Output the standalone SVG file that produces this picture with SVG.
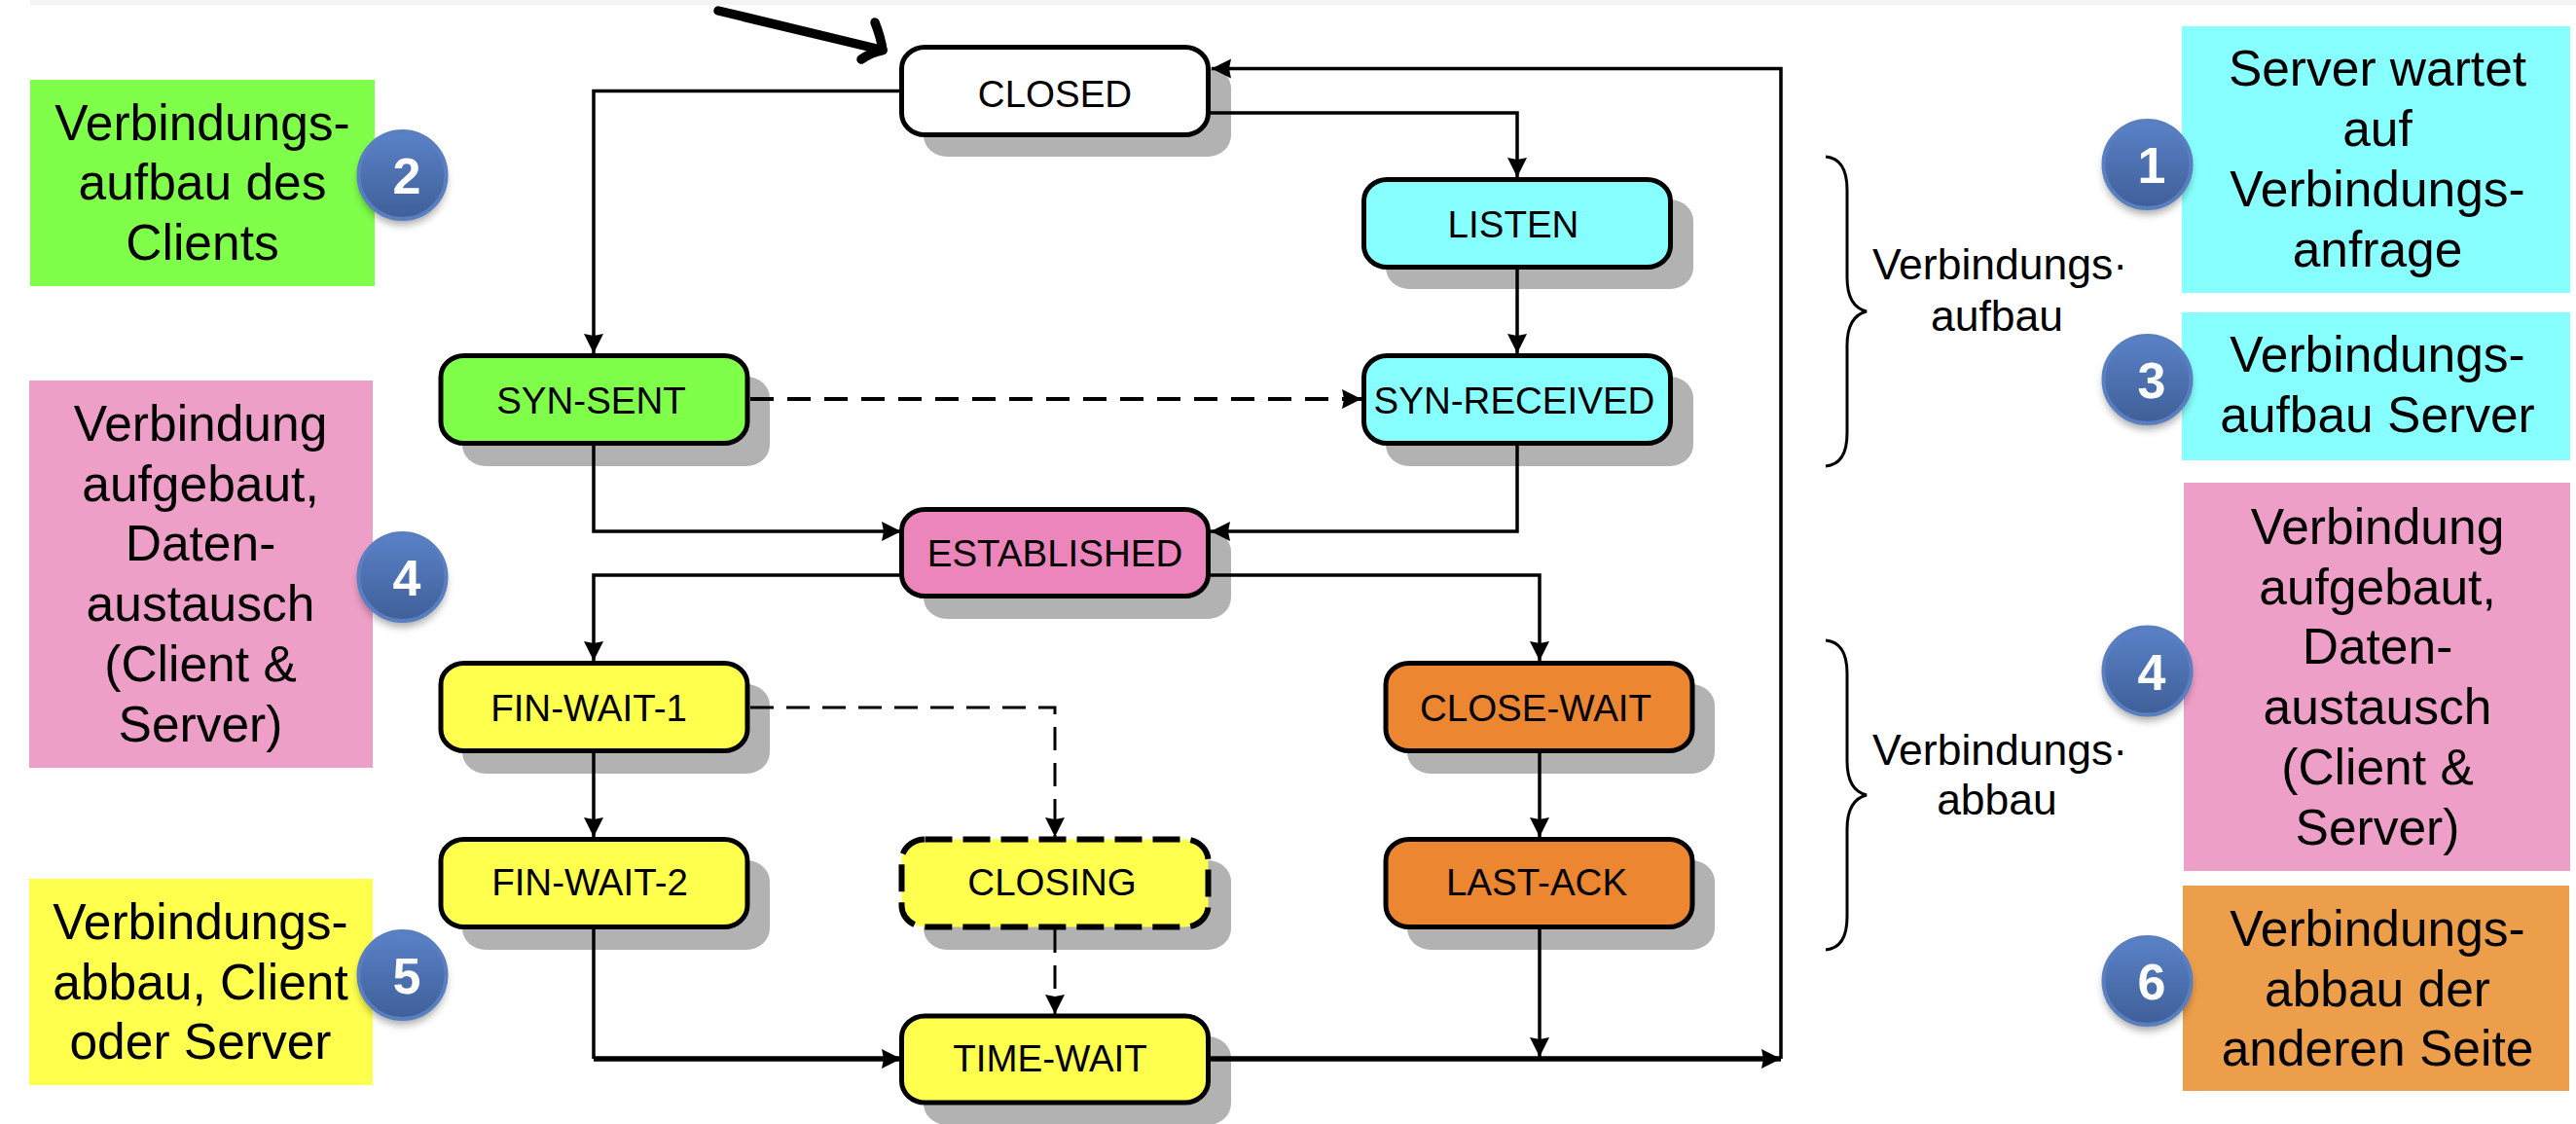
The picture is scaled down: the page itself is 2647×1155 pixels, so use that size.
<svg xmlns="http://www.w3.org/2000/svg" width="2647" height="1155" viewBox="0 0 2647 1155">
<style>
text{font-family:"Liberation Sans",Arial,sans-serif;fill:#000;text-anchor:middle}
.st{font-size:38.5px}
.lb{font-size:51.5px}
.br{font-size:44.5px}
.dg{font-size:52px;font-weight:bold;fill:#fff}
.sh{fill:#b2b2b2}
.n{stroke:#000;stroke-width:5}
.c{fill:none;stroke:#000;stroke-width:3.5}
.hv{stroke-width:5.5}
.ds{stroke-dasharray:24 14;stroke-width:4}
.dt{stroke-dasharray:24 13;stroke-width:3}
.badge{fill:url(#bg);stroke:#5a7fc0;stroke-width:4}
</style>
<defs>
<marker id="a" markerUnits="userSpaceOnUse" markerWidth="22" markerHeight="22" refX="20" refY="10" orient="auto"><path d="M0 0L20 10L0 20L2 10Z" fill="#000"/></marker>
<linearGradient id="bg" x1="0" y1="0" x2="0" y2="1"><stop offset="0" stop-color="#5a82c8"/><stop offset="1" stop-color="#3f5f98"/></linearGradient>
<filter id="bl" x="-30%" y="-30%" width="160%" height="160%"><feGaussianBlur stdDeviation="4"/></filter>
</defs>
<rect width="2647" height="1155" fill="#fff"/>
<rect x="31" y="0" width="2616" height="5" fill="#f3f3f3"/>

<g id="node-closed"><rect class="sh" x="949" y="69" width="316" height="92" rx="24" ry="22"/><rect class="n" x="926.5" y="48.5" width="315" height="90" rx="24" ry="22" fill="#fff"/><text class="st" x="1084" y="110">CLOSED</text></g>
<g id="node-listen"><rect class="sh" x="1424" y="205" width="316" height="92" rx="24" ry="22"/><rect class="n" x="1401.5" y="184.5" width="315" height="90" rx="24" ry="22" fill="#88ffff"/><text class="st" x="1555" y="243.5">LISTEN</text></g>
<g id="node-syn-sent"><rect class="sh" x="475" y="387" width="316" height="92" rx="24" ry="22"/><rect class="n" x="453" y="365.5" width="315" height="90" rx="24" ry="22" fill="#80ff4a"/><text class="st" x="607.5" y="425">SYN-SENT</text></g>
<g id="node-syn-received"><rect class="sh" x="1424" y="387" width="316" height="92" rx="24" ry="22"/><rect class="n" x="1401.5" y="365.5" width="315" height="90" rx="24" ry="22" fill="#88ffff"/><text class="st" x="1556" y="425">SYN-RECEIVED</text></g>
<g id="node-established"><rect class="sh" x="949" y="545" width="316" height="91" rx="24" ry="22"/><rect class="n" x="926.5" y="523.5" width="315" height="89" rx="24" ry="22" fill="#ec85bb"/><text class="st" x="1084" y="582">ESTABLISHED</text></g>
<g id="node-fin-wait-1"><rect class="sh" x="475" y="703" width="316" height="92" rx="24" ry="22"/><rect class="n" x="453" y="681.5" width="315" height="90" rx="24" ry="22" fill="#ffff4d"/><text class="st" x="605" y="741">FIN-WAIT-1</text></g>
<g id="node-close-wait"><rect class="sh" x="1446" y="703" width="316" height="92" rx="24" ry="22"/><rect class="n" x="1424" y="681.5" width="315" height="90" rx="24" ry="22" fill="#ec8630"/><text class="st" x="1578" y="741">CLOSE-WAIT</text></g>
<g id="node-fin-wait-2"><rect class="sh" x="475" y="884" width="316" height="92" rx="24" ry="22"/><rect class="n" x="453" y="862.5" width="315" height="90" rx="24" ry="22" fill="#ffff4d"/><text class="st" x="606" y="920">FIN-WAIT-2</text></g>
<g id="node-closing"><rect class="sh" x="949" y="884" width="316" height="92" rx="24" ry="22"/><rect x="926.5" y="862.5" width="315" height="90" rx="24" ry="22" fill="#ffff4d" stroke="#000" stroke-width="6" stroke-dasharray="28 11"/><text class="st" x="1081" y="920">CLOSING</text></g>
<g id="node-last-ack"><rect class="sh" x="1446" y="884" width="316" height="92" rx="24" ry="22"/><rect class="n" x="1424" y="862.5" width="315" height="90" rx="24" ry="22" fill="#ec8630"/><text class="st" x="1579" y="920">LAST-ACK</text></g>
<g id="node-time-wait"><rect class="sh" x="949" y="1065" width="316" height="91" rx="24" ry="22"/><rect class="n" x="926.5" y="1044" width="315" height="89" rx="24" ry="22" fill="#ffff4d"/><text class="st" x="1079" y="1101">TIME-WAIT</text></g>

<g id="connectors">
<path class="c" d="M926 93.5H610V363" marker-end="url(#a)"/>
<path class="c" d="M1244 116H1559V182" marker-end="url(#a)"/>
<path class="c" d="M1559 276V363" marker-end="url(#a)"/>
<path class="c ds" d="M771 410H1399" marker-end="url(#a)"/>
<path class="c" d="M610 457V546H926" marker-end="url(#a)"/>
<path class="c" d="M1559 457V546H1244" marker-end="url(#a)"/>
<path class="c" d="M926 591H610V679" marker-end="url(#a)"/>
<path class="c" d="M1244 591H1582V679" marker-end="url(#a)"/>
<path class="c dt" d="M771 727H1084V860" marker-end="url(#a)"/>
<path class="c" d="M610 774V860" marker-end="url(#a)"/>
<path class="c" d="M1582 774V860" marker-end="url(#a)"/>
<path class="c dt" d="M1084 955V1042" marker-end="url(#a)"/>
<path class="c" d="M1582 955V1086" marker-end="url(#a)"/>
<path class="c" d="M610 955V1088"/>
<path class="c hv" d="M610 1088H926" marker-end="url(#a)"/>
<path class="c hv" d="M1244 1088H1830" marker-end="url(#a)"/>
<path class="c" d="M1830 1088V70.5H1245" marker-end="url(#a)"/>
</g>

<g id="start-arrow" fill="none" stroke="#000" stroke-width="9.5" stroke-linecap="round" stroke-linejoin="round"><path d="M738 11L907 51.5"/><path d="M899 23Q905 38 907 51.5Q895 54 885 61"/></g>

<g id="brace-aufbau"><path d="M1876 161Q1898 163 1898 195V285Q1898 315 1918 320Q1898 325 1898 355V445Q1898 477 1876 479" fill="none" stroke="#000" stroke-width="3"/><text class="br" x="2055" y="287">Verbindungs·</text><text class="br" x="2052" y="339.5">aufbau</text></g>
<g id="brace-abbau"><path d="M1876 658Q1898 660 1898 692V782Q1898 812 1918 817Q1898 822 1898 852V942Q1898 974 1876 976" fill="none" stroke="#000" stroke-width="3"/><text class="br" x="2055" y="786">Verbindungs·</text><text class="br" x="2052" y="837">abbau</text></g>

<g id="note-2"><rect x="31" y="82" width="354" height="212" fill="#80ff4a"/><text class="lb" x="208" y="144">Verbindungs-</text><text class="lb" x="208" y="205">aufbau des</text><text class="lb" x="208" y="267">Clients</text>
<ellipse cx="413.5" cy="186" rx="45" ry="45" fill="#000" opacity=".35" filter="url(#bl)"/><circle class="badge" cx="413.5" cy="180" r="45"/><text class="dg" x="418" y="199">2</text></g>
<g id="note-4-left"><rect x="30" y="391" width="353" height="398" fill="#ed9fc8"/><text class="lb" x="206" y="453">Verbindung</text><text class="lb" x="206" y="515">aufgebaut,</text><text class="lb" x="206" y="576">Daten-</text><text class="lb" x="206" y="638">austausch</text><text class="lb" x="206" y="700">(Client &amp;</text><text class="lb" x="206" y="762">Server)</text>
<ellipse cx="413.5" cy="599" rx="45" ry="45" fill="#000" opacity=".35" filter="url(#bl)"/><circle class="badge" cx="413.5" cy="593" r="45"/><text class="dg" x="418" y="612">4</text></g>
<g id="note-5"><rect x="30" y="903" width="353" height="212" fill="#ffff4d"/><text class="lb" x="206" y="965">Verbindungs-</text><text class="lb" x="206" y="1027">abbau, Client</text><text class="lb" x="206" y="1088">oder Server</text>
<ellipse cx="413.5" cy="1008" rx="45" ry="45" fill="#000" opacity=".35" filter="url(#bl)"/><circle class="badge" cx="413.5" cy="1002" r="45"/><text class="dg" x="418" y="1021">5</text></g>

<g id="note-1"><rect x="2242" y="27" width="399" height="274" fill="#88ffff"/><text class="lb" x="2443" y="88">Server wartet</text><text class="lb" x="2443" y="150">auf</text><text class="lb" x="2443" y="212">Verbindungs-</text><text class="lb" x="2443" y="274">anfrage</text>
<ellipse cx="2206.5" cy="175" rx="45" ry="45" fill="#000" opacity=".35" filter="url(#bl)"/><circle class="badge" cx="2206.5" cy="169" r="45"/><text class="dg" x="2211" y="188">1</text></g>
<g id="note-3"><rect x="2242" y="321" width="399" height="152" fill="#88ffff"/><text class="lb" x="2443" y="382">Verbindungs-</text><text class="lb" x="2443" y="444">aufbau Server</text>
<ellipse cx="2206.5" cy="396" rx="45" ry="45" fill="#000" opacity=".35" filter="url(#bl)"/><circle class="badge" cx="2206.5" cy="390" r="45"/><text class="dg" x="2211" y="409">3</text></g>
<g id="note-4-right"><rect x="2244" y="496" width="397" height="399" fill="#ed9fc8"/><text class="lb" x="2443" y="559">Verbindung</text><text class="lb" x="2443" y="620.5">aufgebaut,</text><text class="lb" x="2443" y="682">Daten-</text><text class="lb" x="2443" y="744">austausch</text><text class="lb" x="2443" y="806">(Client &amp;</text><text class="lb" x="2443" y="868">Server)</text>
<ellipse cx="2206.5" cy="695.5" rx="45" ry="45" fill="#000" opacity=".35" filter="url(#bl)"/><circle class="badge" cx="2206.5" cy="689.5" r="45"/><text class="dg" x="2211" y="708.5">4</text></g>
<g id="note-6"><rect x="2243" y="910" width="397" height="211" fill="#ed9e4a"/><text class="lb" x="2443" y="972">Verbindungs-</text><text class="lb" x="2443" y="1034">abbau der</text><text class="lb" x="2443" y="1095">anderen Seite</text>
<ellipse cx="2206.5" cy="1014" rx="45" ry="45" fill="#000" opacity=".35" filter="url(#bl)"/><circle class="badge" cx="2206.5" cy="1008" r="45"/><text class="dg" x="2211" y="1027">6</text></g>
</svg>
